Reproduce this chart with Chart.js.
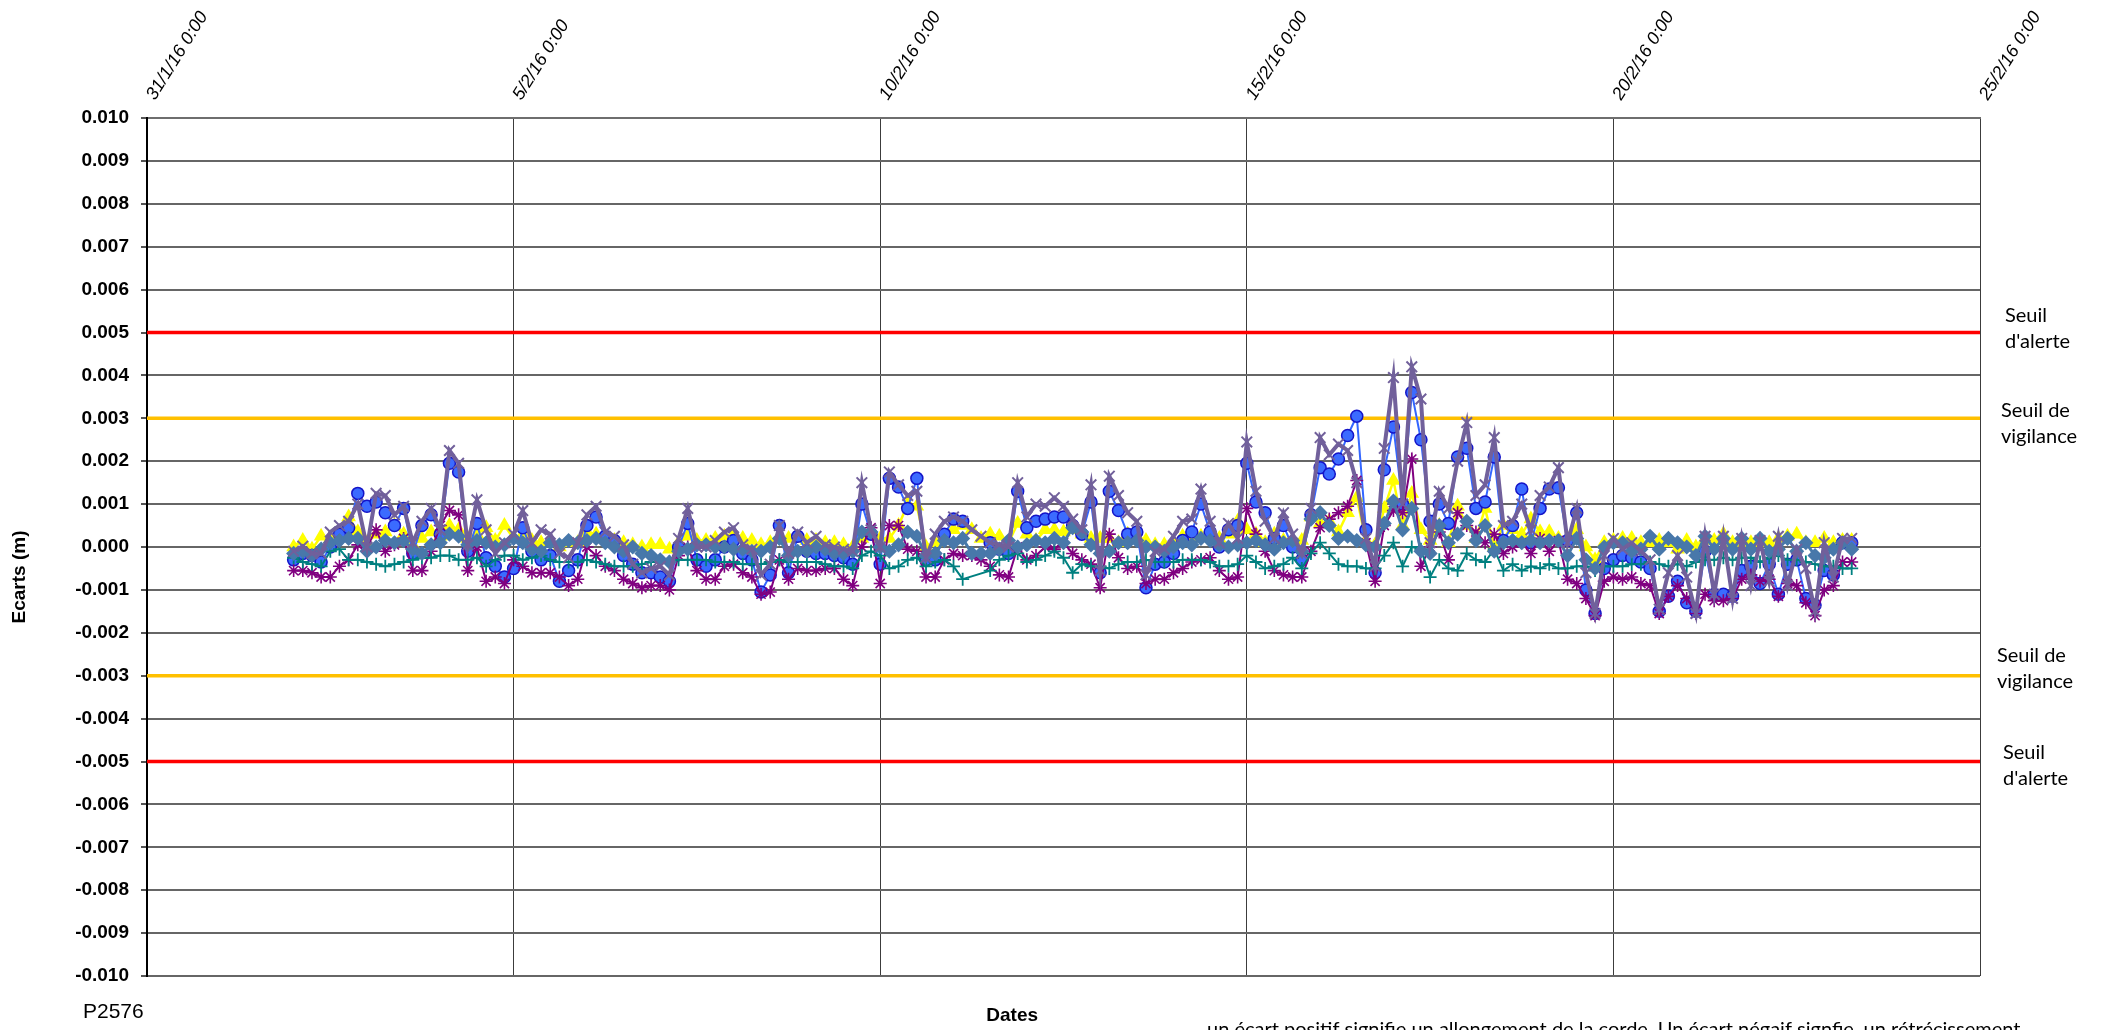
<!DOCTYPE html>
<html><head><meta charset="utf-8">
<script src="https://cdn.jsdelivr.net/npm/chart.js@4.4.1/dist/chart.umd.min.js"></script>
<style>html,body{margin:0;padding:0;background:#fff;overflow:hidden}canvas{display:block}</style>
</head><body>
<canvas id="c" width="2103" height="1030"></canvas>
<script>
// ---------- DATA ----------
const X_TICK_LABELS = ['31/1/16 0:00','5/2/16 0:00','10/2/16 0:00','15/2/16 0:00','20/2/16 0:00','25/2/16 0:00'];
const X_MIN_DAY = 0, X_MAX_DAY = 25, X_STEP_DAY = 5;      // days after 31/1/16 0:00
const Y_MIN = -0.010, Y_MAX = 0.010, Y_STEP = 0.001;
const FIRST_READING_DAY = 2;      // 2/2/16 0:00
const READING_STEP_HOURS = 3;

const Y_TITLE = 'Ecarts (m)';
const X_TITLE = 'Dates';
const SENSOR_NAME = 'P2576';
const NOTE = "un écart positif signifie un allongement de la corde. Un écart négaif signfie, un rétrécissement";

const THRESHOLD_VALUES = [0.005, 0.003, -0.003, -0.005];
const THRESHOLD_LABELS = [['Seuil', "d'alerte"], ['Seuil de', 'vigilance'], ['Seuil de', 'vigilance'], ['Seuil', "d'alerte"]];

// series values in mm (converted to m for the chart)
const seriesYellow = [
0.0,0.15,-0.05,0.25,0.2,0.3,0.7,0.35,0.1,0.3,
0.35,0.5,0.3,0.05,0.2,0.35,0.25,0.5,0.4,0.2,
0.3,0.45,0.15,0.5,0.2,0.3,0.15,0.1,0.1,0.0,
0.1,0.1,0.35,0.3,0.2,0.15,0.1,0.05,0.0,0.05,
0.05,-0.05,0.1,0.25,0.15,0.15,0.2,0.25,0.3,0.2,
0.15,0.05,0.1,0.25,0.2,0.2,0.15,0.15,0.1,0.1,
0.05,0.0,0.2,0.35,0.2,0.2,0.5,1.0,0.95,0.0,
0.1,0.25,0.4,0.5,0.4,0.2,0.3,0.25,0.1,0.55,
0.3,0.15,0.4,0.4,0.35,0.4,0.3,0.2,0.2,0.2,
0.1,0.3,0.25,0.15,0.05,0.05,0.1,0.25,0.2,0.25,
0.25,0.2,0.3,0.6,0.4,0.3,0.1,0.3,0.15,0.1,
0.15,0.7,0.55,0.6,0.35,0.8,1.15,0.15,0.05,0.9,
1.55,0.5,1.25,0.4,0.15,0.5,0.1,0.95,0.5,0.2,
0.9,0.0,0.5,0.4,0.3,0.65,0.35,0.35,0.2,0.2,
0.4,0.0,-0.3,0.1,0.15,0.2,0.2,0.1,0.1,0.15,
0.1,-0.05,0.15,0.0,0.2,0.15,0.3,0.1,0.15,0.1,
0.1,0.1,0.2,0.25,0.3,0.1,0.1,0.2,0.1,0.15,
0.15];
const seriesBlue = [
-0.3,-0.15,-0.2,-0.35,0.0,0.3,0.45,1.25,0.95,1.05,
0.8,0.5,0.9,-0.15,0.5,0.75,0.3,1.95,1.75,-0.1,
0.55,-0.25,-0.45,-0.7,-0.5,0.45,-0.1,-0.3,-0.2,-0.8,
-0.55,-0.3,0.5,0.7,0.25,0.15,-0.2,-0.4,-0.6,-0.6,
-0.7,-0.8,0.0,0.55,-0.3,-0.45,-0.3,0.0,0.15,-0.15,
-0.3,-1.05,-0.65,0.5,-0.6,0.25,-0.1,-0.15,-0.15,-0.2,
-0.25,-0.4,1.0,0.3,-0.4,1.6,1.4,0.9,1.6,-0.3,
-0.3,0.3,0.65,0.6,null,null,0.1,-0.05,-0.15,1.3,
0.45,0.6,0.65,0.7,0.7,0.5,0.3,1.05,-0.6,1.3,
0.85,0.3,0.35,-0.95,-0.4,-0.35,-0.15,0.15,0.35,1.0,
0.35,0.0,0.4,0.5,1.95,1.05,0.8,0.2,0.5,0.0,
-0.3,0.75,1.85,1.7,2.05,2.6,3.05,0.4,-0.6,1.8,
2.8,1.0,3.6,2.5,0.6,1.0,0.55,2.1,2.3,0.9,
1.05,2.1,0.15,0.5,1.35,0.1,0.9,1.35,1.38,0.15,
0.8,-1.0,-1.55,-0.5,-0.3,-0.2,-0.25,-0.35,-0.5,-1.5,
-1.15,-0.8,-1.3,-1.5,-0.1,-1.1,-1.1,-1.15,-0.55,-0.45,
-0.85,-0.4,-1.1,-0.4,-0.3,-1.2,-1.35,-0.55,-0.65,0.1,
0.1];
const seriesMagenta = [
-0.55,-0.55,-0.6,-0.7,-0.7,-0.45,-0.3,0.05,0.0,0.4,
-0.1,0.05,0.2,-0.55,-0.55,-0.1,0.5,0.85,0.75,-0.55,
0.0,-0.8,-0.7,-0.85,-0.3,-0.45,-0.6,-0.6,-0.6,-0.7,
-0.9,-0.75,0.0,-0.2,-0.45,-0.55,-0.75,-0.85,-0.95,-0.9,
-0.9,-1.0,-0.2,0.0,-0.55,-0.75,-0.75,-0.45,-0.4,-0.6,
-0.7,-1.1,-1.05,-0.3,-0.75,-0.5,-0.55,-0.55,-0.5,-0.5,
-0.75,-0.9,0.0,0.45,-0.85,0.5,0.5,-0.05,-0.1,-0.7,
-0.7,-0.3,-0.15,-0.2,-0.2,-0.3,-0.45,-0.65,-0.7,0.0,
-0.3,-0.2,0.0,-0.05,0.1,-0.15,-0.3,-0.4,-0.95,0.3,
-0.25,-0.5,-0.45,-0.85,-0.75,-0.75,-0.6,-0.5,-0.35,-0.3,
-0.25,-0.55,-0.75,-0.7,0.9,0.3,-0.1,-0.55,-0.65,-0.7,
-0.7,-0.1,0.45,0.65,0.8,0.95,1.55,0.1,-0.8,0.5,
0.85,0.8,2.05,-0.45,0.0,0.35,-0.3,0.8,0.5,0.35,
0.1,0.3,-0.15,0.0,0.1,-0.15,0.2,-0.1,0.15,-0.75,
-0.85,-1.2,-1.6,-0.8,-0.7,-0.75,-0.7,-0.85,-0.9,-1.55,
-1.15,-0.9,-1.2,-1.55,-1.1,-1.25,-1.25,-1.2,-0.75,-0.65,
-0.8,-0.75,-1.15,-0.85,-0.9,-1.3,-1.6,-1.0,-0.9,-0.35,
-0.35];
const seriesTeal = [
-0.25,-0.35,-0.4,-0.45,-0.1,-0.05,-0.3,-0.3,-0.35,-0.4,
-0.45,-0.4,-0.35,-0.3,-0.25,-0.25,-0.2,-0.2,-0.3,-0.3,
-0.25,-0.45,-0.3,-0.2,-0.2,-0.3,-0.25,-0.2,-0.3,-0.35,
-0.35,-0.35,-0.3,-0.35,-0.4,-0.45,-0.45,-0.45,-0.4,-0.35,
-0.35,-0.35,-0.3,-0.3,-0.3,-0.3,-0.35,-0.35,-0.35,-0.4,
-0.4,-0.4,-0.35,-0.3,-0.35,-0.35,-0.35,-0.35,-0.4,-0.45,
-0.45,-0.5,-0.2,-0.1,-0.2,-0.5,-0.45,-0.3,-0.25,-0.45,
-0.35,-0.3,-0.45,-0.75,null,null,-0.55,-0.3,-0.2,-0.15,
-0.35,-0.3,-0.2,-0.1,-0.25,-0.6,-0.4,-0.45,-0.45,-0.5,
-0.4,-0.35,-0.35,-0.3,-0.35,-0.35,-0.35,-0.3,-0.3,-0.3,
-0.35,-0.45,-0.45,-0.4,-0.2,-0.35,-0.5,-0.45,-0.4,-0.25,
-0.5,-0.15,0.1,-0.15,-0.4,-0.45,-0.45,-0.5,-0.5,-0.2,
0.1,-0.45,0.0,-0.05,-0.7,-0.3,-0.5,-0.55,-0.15,-0.3,
-0.35,-0.05,-0.55,-0.4,-0.55,-0.45,-0.5,-0.4,-0.5,-0.5,
-0.45,-0.45,-0.55,-0.45,-0.45,-0.45,-0.4,-0.4,-0.35,-0.4,
-0.45,-0.4,-0.45,-0.35,-0.3,-0.3,-0.25,-0.3,-0.25,-0.25,
-0.35,-0.25,-0.2,-0.3,-0.3,-0.35,-0.4,-0.45,-0.45,-0.5,
-0.5];
const seriesSteel = [
-0.15,-0.1,-0.2,-0.05,0.1,0.15,0.2,0.2,-0.1,0.0,
0.15,0.1,0.15,-0.05,-0.15,0.05,0.1,0.3,0.25,0.05,
0.15,0.1,0.0,0.05,0.2,0.1,-0.05,-0.1,0.1,0.05,
0.15,0.1,0.15,0.2,0.1,0.0,-0.1,0.0,-0.15,-0.2,
-0.3,-0.35,-0.1,-0.05,0.05,0.05,0.0,0.0,-0.05,-0.05,
-0.1,-0.1,0.0,0.2,-0.2,-0.1,-0.1,0.0,-0.05,-0.15,
-0.15,-0.1,0.35,0.35,0.0,-0.1,0.05,0.35,0.25,-0.2,
-0.15,0.15,0.1,0.2,-0.15,-0.15,-0.15,-0.05,0.15,0.0,
0.05,0.15,0.1,0.2,0.1,0.45,0.35,0.05,-0.15,-0.1,
0.1,0.1,0.15,0.0,0.0,-0.1,0.0,0.1,0.05,0.2,
0.15,0.05,0.0,0.05,0.1,0.15,0.05,-0.05,0.1,0.15,
-0.1,0.65,0.8,0.5,0.2,0.25,0.15,0.05,0.0,0.55,
1.07,0.4,0.9,-0.1,-0.15,0.5,0.1,0.3,0.6,0.15,
0.5,-0.1,0.1,0.15,0.1,0.15,0.1,0.15,0.15,-0.2,
0.2,-0.3,-0.5,0.0,0.1,0.1,-0.1,-0.05,0.25,-0.05,
0.2,0.1,0.0,-0.2,0.25,-0.05,0.2,-0.05,0.2,-0.05,
0.2,-0.1,-0.05,0.2,-0.1,0.1,-0.2,-0.25,-0.05,0.1,
-0.05];
const seriesPurple = [
-0.1,0.02,-0.15,-0.15,0.35,0.5,0.6,1.0,0.0,1.25,
1.2,0.75,0.95,0.1,0.6,0.9,0.4,2.25,1.95,0.05,
1.1,0.4,-0.15,0.1,0.3,0.85,0.1,0.4,0.3,-0.15,
-0.25,0.1,0.75,0.95,0.35,0.25,0.05,-0.4,-0.6,-0.5,
-0.45,-0.65,0.2,0.9,0.0,0.0,0.15,0.35,0.45,0.05,
-0.05,-0.65,-0.4,0.5,-0.15,0.35,0.1,0.25,0.05,0.0,
-0.05,-0.1,1.5,0.4,0.0,1.75,1.45,1.2,1.3,-0.25,
0.3,0.6,0.7,0.6,0.4,0.25,0.1,0.05,0.0,1.5,
0.7,1.0,0.95,1.15,0.95,0.65,0.4,1.45,-0.55,1.65,
1.2,0.8,0.6,-0.65,-0.1,-0.05,0.25,0.6,0.65,1.35,
0.6,0.1,0.55,0.2,2.45,1.3,0.6,0.2,0.8,0.3,
-0.15,0.9,2.55,2.15,2.4,2.25,1.5,0.2,-0.45,2.3,
3.95,1.0,4.2,3.45,0.1,1.3,0.9,2.0,2.9,1.2,
1.45,2.55,0.5,0.6,1.0,0.4,1.2,1.4,1.85,0.1,
0.9,-0.6,-1.55,-0.2,0.2,-0.05,0.1,-0.1,-0.3,-1.45,
-0.6,-0.2,-0.7,-1.55,0.25,-1.1,0.25,-1.2,0.2,-0.9,
0.15,-0.8,0.25,-0.9,-0.05,-0.5,-1.5,0.1,-0.7,0.2,
0.2];

// ---------- BUILD ----------
const toPoints = arr => arr.map((v, i) => ({
  x: FIRST_READING_DAY + i * READING_STEP_HOURS / 24,
  y: v === null ? null : v / 1000
}));

function lineSet(label, arr, color, opts) {
  return Object.assign({
    label, data: toPoints(arr), borderColor: color, backgroundColor: color,
    pointBackgroundColor: color, pointBorderColor: color, fill: false,
    tension: 0, spanGaps: true, borderWidth: 2, pointRadius: 5, pointBorderWidth: 1.5
  }, opts);
}

const thresholdColors = ['#FF0000', '#FFC000', '#FFC000', '#FF0000'];
const thresholdSets = THRESHOLD_VALUES.map((v, k) => ({
  label: THRESHOLD_LABELS[k].join(' '),
  data: [{x: X_MIN_DAY, y: v}, {x: X_MAX_DAY, y: v}],
  borderColor: thresholdColors[k], borderWidth: 3.5, pointRadius: 0, fill: false, order: 20
}));

const datasets = [
  lineSet('Yellow', seriesYellow, '#FFFF00', {pointStyle: 'triangle', pointRadius: 7, borderWidth: 2.5, order: 10}),
  lineSet('Blue', seriesBlue, '#3366FF', {pointStyle: 'circle', pointRadius: 6, pointBorderColor: '#1414C8', pointBackgroundColor: '#3B6BFF', borderWidth: 2, order: 9}),
  lineSet('Magenta', seriesMagenta, '#800080', {pointStyle: 'star', pointRadius: 6.5, borderWidth: 2, pointBorderWidth: 1.6, order: 8}),
  lineSet('Teal', seriesTeal, '#008080', {pointStyle: 'cross', pointRadius: 6.5, borderWidth: 2, pointBorderWidth: 1.8, order: 7}),
  lineSet('Steel', seriesSteel, '#4878AA', {pointStyle: 'rectRot', pointRadius: 6.5, borderWidth: 3, order: 6}),
  lineSet('Purple', seriesPurple, '#71609B', {pointStyle: 'crossRot', pointRadius: 7.5, borderWidth: 4, pointBorderWidth: 2, order: 5})
].concat(thresholdSets);

const AXIS_FONT = '"Liberation Sans", Arial, sans-serif';
const NOTE_FONT = 'Lato, "Open Sans", sans-serif';

const textPlugin = {
  id: 'texts',
  afterDraw(chart) {
    const {ctx, chartArea, scales} = chart;
    const ca = chartArea;
    ctx.save();
    ctx.fillStyle = '#000';
    // y title
    ctx.save();
    ctx.translate(20, (ca.top + ca.bottom) / 2 + 30);
    ctx.rotate(-Math.PI / 2);
    ctx.font = 'bold 19px ' + AXIS_FONT;
    ctx.textAlign = 'center'; ctx.textBaseline = 'middle';
    ctx.fillText(Y_TITLE, 0, 0);
    ctx.restore();
    // x title
    ctx.font = 'bold 19px ' + AXIS_FONT;
    ctx.textAlign = 'center'; ctx.textBaseline = 'middle';
    ctx.fillText(X_TITLE, ca.left + 0.472 * (ca.right - ca.left), ca.bottom + 40);
    // sensor name
    ctx.font = '21px ' + AXIS_FONT;
    ctx.textAlign = 'left'; ctx.textBaseline = 'alphabetic';
    ctx.fillText(SENSOR_NAME, 83, ca.bottom + 42);
    // note
    ctx.font = '20px ' + NOTE_FONT;
    ctx.fillText(NOTE, 1207, ca.bottom + 60);
    // threshold labels
    const dx = [25, 21, 17, 23];
    const dy = [-11, -1, -14, -3];
    ctx.font = '20px ' + NOTE_FONT;
    THRESHOLD_VALUES.forEach((v, k) => {
      const py = scales.y.getPixelForValue(v);
      THRESHOLD_LABELS[k].forEach((line, j) => {
        ctx.fillText(line, ca.right + dx[k], py + dy[k] + j * 26);
      });
    });
    ctx.restore();
  }
};

new Chart(document.getElementById('c'), {
  type: 'line',
  data: {datasets},
  plugins: [textPlugin],
  options: {
    responsive: false, animation: false, devicePixelRatio: 1,
    layout: {padding: {left: 0, right: 123, top: 0, bottom: 54}},
    plugins: {legend: {display: false}, tooltip: {enabled: false}},
    scales: {
      x: {
        type: 'linear', position: 'top', min: X_MIN_DAY, max: X_MAX_DAY,
        ticks: {
          stepSize: X_STEP_DAY, minRotation: 58, maxRotation: 58, padding: 14, labelOffset: 22,
          color: '#000', font: {family: AXIS_FONT, size: 18, style: 'italic'},
          callback: v => X_TICK_LABELS[Math.round(v / X_STEP_DAY)]
        },
        grid: {color: '#3c3c3c', lineWidth: 1, drawTicks: false},
        border: {display: true, color: '#6e6e6e', width: 2},
        afterFit(s) { s.height = 118; s.paddingLeft = 0; s.paddingRight = 0; s.paddingTop = 0; s.paddingBottom = 0; }
      },
      y: {
        type: 'linear', min: Y_MIN, max: Y_MAX,
        ticks: {
          stepSize: Y_STEP, padding: 12, color: '#000',
          font: {family: AXIS_FONT, size: 19, weight: 'bold'},
          callback: v => Math.abs(v) < 1e-9 ? '0.000' : v.toFixed(3)
        },
        grid: {color: '#666666', lineWidth: 2, tickLength: 6, tickColor: '#555'},
        border: {display: true, color: '#000', width: 2},
        afterFit(s) { s.width = 147; s.paddingLeft = 0; s.paddingRight = 0; s.paddingTop = 0; s.paddingBottom = 0; }
      }
    }
  }
});
</script>
</body></html>
